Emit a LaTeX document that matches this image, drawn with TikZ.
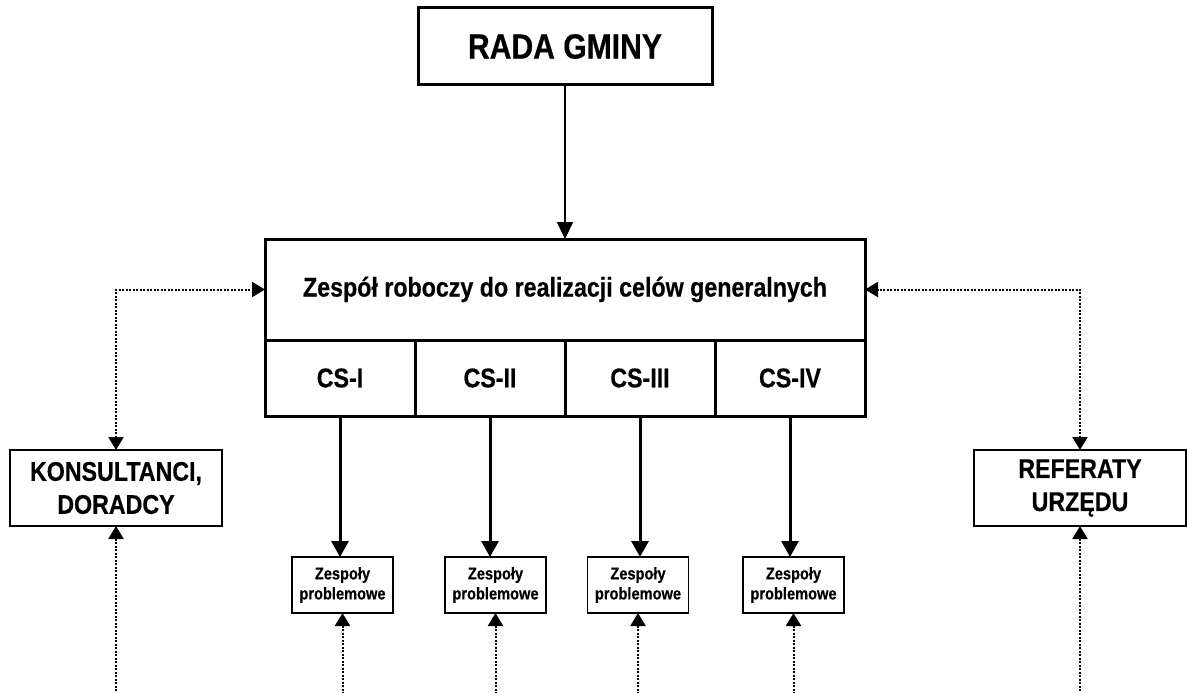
\documentclass[tikz,border=0pt]{standalone}
\usepackage{fontspec}
\setmainfont{Liberation Sans}[FakeStretch=0.86,BoldFeatures={FakeBold=0.5}]
\usetikzlibrary{arrows.meta,positioning}

\begin{document}
\begin{tikzpicture}[x=1pt,y=-1pt,
  bigbox/.style={draw,line width=3pt,inner sep=0pt,outer sep=0pt,font=\fontsize{27}{32}\selectfont\bfseries},
  cell/.style={bigbox,minimum width=150pt,minimum height=76pt},
  sidebox/.style={draw,line width=1.8pt,inner sep=0pt,outer sep=0pt,minimum width=212pt,minimum height=76pt,
    align=center,font=\fontsize{27}{33}\selectfont\bfseries},
  teambox/.style={draw,line width=1.6pt,inner sep=0pt,outer sep=0pt,minimum width=101pt,minimum height=56pt,
    align=center,font=\fontsize{17}{20}\selectfont\bfseries},
  mainarrow/.style={-{Triangle[length=16pt,width=17pt]},line width=3pt},
  linkarrow/.style={line width=2pt,dash pattern=on 2pt off 1.5pt},
  linktip/.style={{Triangle[length=13pt,width=15pt]}-},
  linkboth/.style={{Triangle[length=13pt,width=15pt]}-{Triangle[length=13pt,width=15pt]}}]
  \useasboundingbox (0,0) rectangle (1187,693);

  \node[bigbox,minimum width=294pt,minimum height=77pt,font=\fontsize{35}{42}\selectfont\bfseries]
    (rada) at (565,46.5) {RADA GMINY};
  \node[bigbox,minimum width=600pt,minimum height=101pt] (zespol) at (565,289.5)
    {Zespół roboczy do realizacji celów generalnych};

  \node[cell,anchor=north west] (cs1) at (zespol.south west) {CS-I};
  \node[cell,anchor=north west] (cs2) at (cs1.north east) {CS-II};
  \node[cell,anchor=north west] (cs3) at (cs2.north east) {CS-III};
  \node[cell,anchor=north west] (cs4) at (cs3.north east) {CS-IV};

  \node[sidebox] (konsultanci) at (116,488) {KONSULTANCI,\\DORADCY};
  \node[sidebox] (referaty) at (1080,488) {REFERATY\\URZĘDU};

  \draw[-{Triangle[length=17pt,width=16pt]},line width=2pt] (rada) -- (zespol);

  \foreach \x [count=\i] in {342.5,495.5,638,793.5} {
    \node[teambox] (team\i) at (\x,585) {Zespoły\\problemowe};
    \coordinate (foot\i) at (team\i |- 0,693);
    \draw[mainarrow] (cs\i) -- (cs\i |- team\i.north);
    \draw[linkarrow,linktip] (team\i) -- (foot\i);
  }

  \coordinate (footk) at (konsultanci |- 0,693);
  \coordinate (footr) at (referaty |- 0,693);
  \draw[linkarrow,linktip] (konsultanci) -- (footk);
  \draw[linkarrow,linktip] (referaty) -- (footr);
  \draw[linkarrow,linkboth] (konsultanci) |- (zespol);
  \draw[linkarrow,linkboth] (referaty) |- (zespol);
\end{tikzpicture}
\end{document}
